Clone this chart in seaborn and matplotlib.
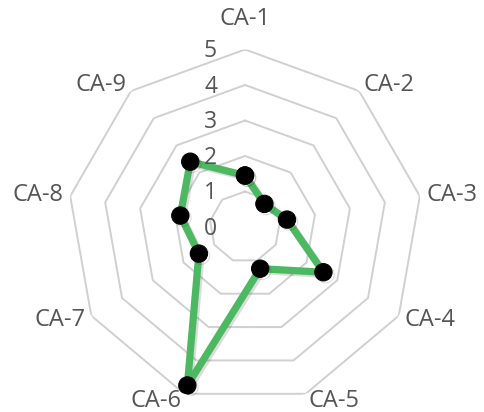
import numpy as np
import pandas as pd
import matplotlib
matplotlib.use("Agg")
import matplotlib.pyplot as plt
import matplotlib.patheffects as pe
import matplotlib.transforms as mtransforms
import seaborn as sns

categories = ["CA-1", "CA-2", "CA-3", "CA-4", "CA-5", "CA-6", "CA-7", "CA-8", "CA-9"]
values = [1.45, 0.85, 1.2, 2.55, 1.25, 4.75, 1.5, 1.85, 2.4]
levels = [0, 1, 2, 3, 4, 5]

sns.set_theme(style="white")
plt.rcParams["font.family"] = ["Open Sans", "DejaVu Sans"]

n = len(categories)
theta = np.arange(n) * 2 * np.pi / n
df = pd.DataFrame({
    "theta": np.append(theta, 2 * np.pi),
    "value": values + values[:1],
})

fig = plt.figure(figsize=(4.84, 4.12), dpi=100)
ax = fig.add_axes([0.1395, 0.0182, 0.7335, 0.8617], projection="polar")
ax.set_theta_zero_location("N")
ax.set_theta_direction(-1)
ax.set_ylim(0, 5)
ax.grid(False)
ax.spines["polar"].set_visible(False)
ax.set_xticks([])
ax.set_yticks([])
ax.set_facecolor("white")

# polygon gridlines
ring = np.append(theta, theta[0])
for lvl in levels[1:]:
    ax.plot(ring, [lvl] * len(ring), color="#d0d0d0", lw=1.4, zorder=1)

sns.lineplot(
    data=df, x="theta", y="value", sort=False, estimator=None, ax=ax,
    color="#4cb861", lw=5.2, marker="o", markersize=12.5,
    markerfacecolor="black", markeredgecolor="black", zorder=3,
    path_effects=[pe.SimpleLineShadow(offset=(1.5, -1.5), alpha=0.15), pe.Normal()],
)
ax.set_xlabel("")
ax.set_ylabel("")

txt = "#555555"
# category labels at the outer vertices
for t, lab in zip(theta, categories):
    s, c = np.sin(t), np.cos(t)
    if abs(s) < 0.1:
        ha, va, dx, dy = "center", "bottom", 0, 18
    else:
        ha = "left" if s > 0 else "right"
        va, dx, dy = "center", 7 * s, 8 * c
    tr = ax.transData + mtransforms.ScaledTranslation(dx / 100, dy / 100, fig.dpi_scale_trans)
    ax.text(t, 5, lab, transform=tr, ha=ha, va=va, fontsize=17, color=txt)

# radial value labels along the first spoke
tr = ax.transData + mtransforms.ScaledTranslation(-0.28, -0.02, fig.dpi_scale_trans)
for lvl in levels:
    ax.text(0, lvl, str(lvl), transform=tr, ha="right", va="center", fontsize=16.5, color=txt)

fig.savefig("out.png", dpi=100, facecolor="white")
plt.close(fig)
